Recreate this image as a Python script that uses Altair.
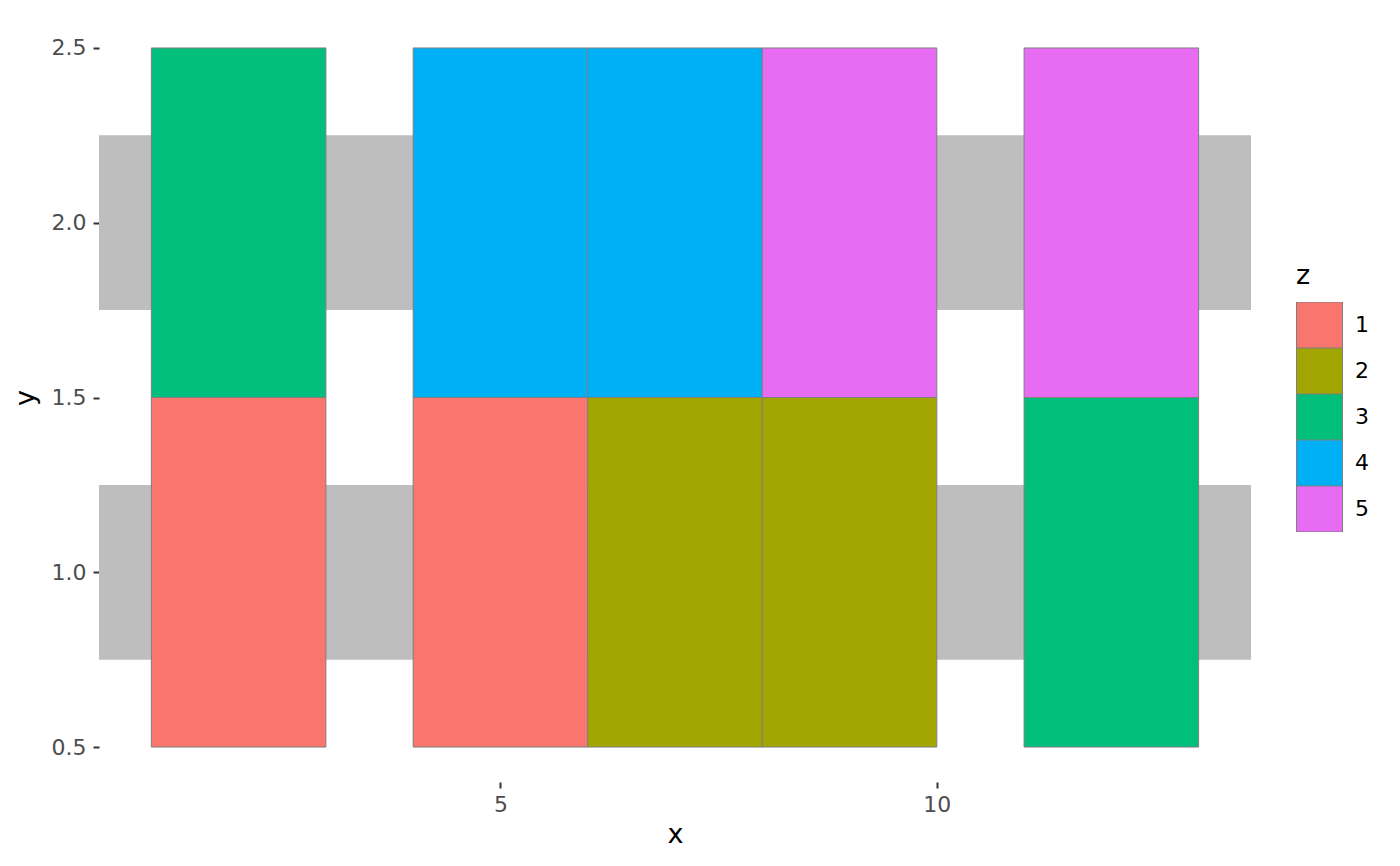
import altair as alt
import pandas as pd

# data (ggplot2 geom_tile example)
tile_x = [2, 5, 7, 9, 12, 2, 5, 7, 9, 12]
tile_y = [1, 1, 1, 1, 1, 2, 2, 2, 2, 2]
tile_z = ["1", "1", "2", "2", "3", "3", "4", "4", "5", "5"]
tile_w = 2      # resolution of x
tile_h = 1
band_y = [1, 2]
band_h = 0.5

x_domain = [0.4, 13.6]
y_domain = [0.4, 2.6]
x_ticks = [5, 10]
y_ticks = [0.5, 1.0, 1.5, 2.0, 2.5]

z_levels = ["1", "2", "3", "4", "5"]
z_colors = ["#F8766D", "#A3A500", "#00BF7D", "#00B0F6", "#E76BF3"]

tiles = pd.DataFrame({"x": tile_x, "y": tile_y, "z": tile_z})
tiles["xmin"] = tiles["x"] - tile_w / 2
tiles["xmax"] = tiles["x"] + tile_w / 2
tiles["ymin"] = tiles["y"] - tile_h / 2
tiles["ymax"] = tiles["y"] + tile_h / 2

bands = pd.DataFrame({"y": band_y})
bands["ymin"] = bands["y"] - band_h / 2
bands["ymax"] = bands["y"] + band_h / 2

FONT = "DejaVu Sans"

xscale = alt.Scale(domain=x_domain, nice=False, zero=False)
yscale = alt.Scale(domain=y_domain, nice=False, zero=False)

xaxis = alt.Axis(values=x_ticks, title="x", grid=False, domain=False,
                 tickColor="#333333", tickSize=6, tickWidth=2,
                 labelColor="#4D4D4D", labelFontSize=22, labelPadding=6,
                 labelFont=FONT, titleFont=FONT, titleFontSize=27,
                 titleFontWeight="normal", titleColor="black", titlePadding=6)
yaxis = alt.Axis(values=y_ticks, format=".1f", title="y", grid=False, domain=False,
                 tickColor="#333333", tickSize=6, tickWidth=2,
                 labelColor="#4D4D4D", labelFontSize=22, labelPadding=7,
                 labelFont=FONT, titleFont=FONT, titleFontSize=27,
                 titleFontWeight="normal", titleColor="black", titlePadding=12)

band_layer = alt.Chart(bands).mark_rect(color="#BEBEBE").encode(
    x=alt.value(0),
    x2=alt.value("width"),
    y=alt.Y("ymin:Q", scale=yscale, axis=yaxis),
    y2="ymax:Q",
)

tile_layer = alt.Chart(tiles).mark_rect(stroke="#7F7F7F", strokeWidth=1).encode(
    x=alt.X("xmin:Q", scale=xscale, axis=xaxis),
    x2="xmax:Q",
    y=alt.Y("ymin:Q", scale=yscale, axis=yaxis),
    y2="ymax:Q",
    fill=alt.Fill("z:N", scale=alt.Scale(domain=z_levels, range=z_colors),
                  legend=alt.Legend(title="z", orient="none", legendX=1197, legendY=250,
                                    symbolType="square", symbolSize=2116,
                                    symbolStrokeColor="#7F7F7F", symbolStrokeWidth=1,
                                    clipHeight=46, rowPadding=0, labelOffset=12,
                                    labelFontSize=22, labelFont=FONT, labelColor="black",
                                    titleFontSize=27, titleFont=FONT, titleColor="black",
                                    titleFontWeight="normal", titlePadding=12)),
)

chart = alt.layer(band_layer, tile_layer).properties(
    width=1152, height=769,
    autosize=alt.AutoSizeParams(type="none"),
    padding={"left": 91, "top": 5, "right": 141, "bottom": 76},
).configure(font=FONT).configure_view(strokeWidth=0, stroke=None)

chart.save("out.html", embed_options={"renderer": "svg", "actions": False})
